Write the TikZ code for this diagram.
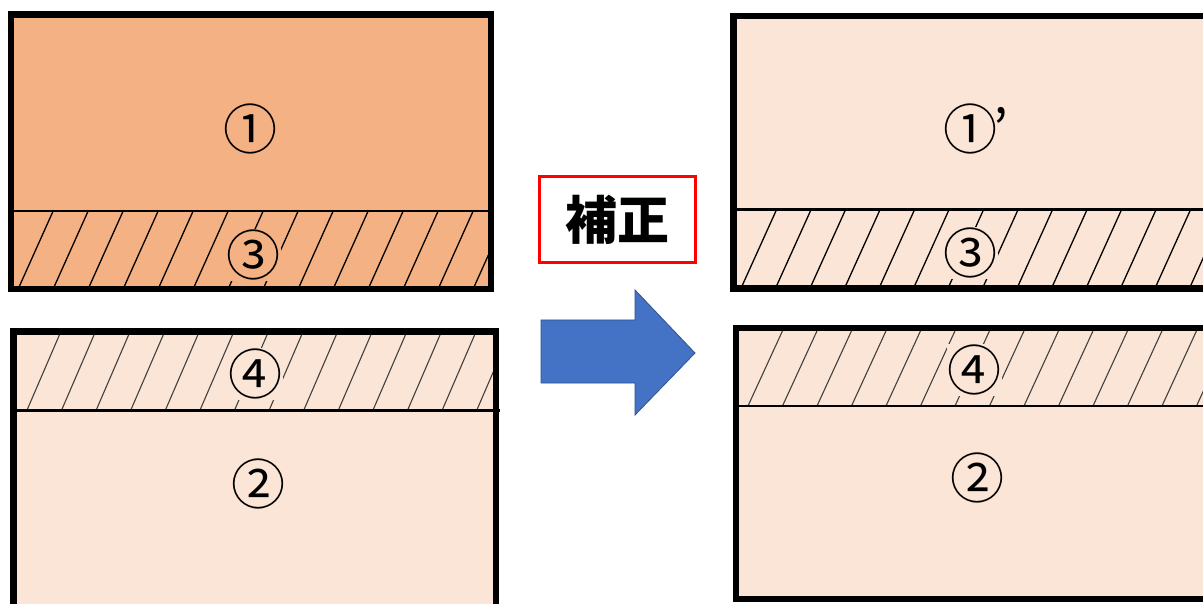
\documentclass[tikz,border=0pt]{standalone}
\usepackage{fontspec}
\newfontfamily\cjk{Noto Sans CJK JP}
\definecolor{darkfill}{HTML}{F4B183}
\definecolor{lightfill}{HTML}{FBE5D6}
\definecolor{arrowblue}{HTML}{4472C4}
\definecolor{arrowedge}{HTML}{2F528F}
\tikzset{
  outerbox/.style={draw=black, line width=6.5pt},
  midline/.style={draw=black, line width=2.6pt},
  hatchdark/.style={draw=black, line width=1.3pt},
  hatchlight/.style={draw=black!75, line width=1.1pt},
  lbl/.style={font=\cjk\fontsize{54}{54}\selectfont, inner sep=0.5pt},
  titlebox/.style={draw=red, line width=3pt, fill=white, minimum width=156pt, minimum height=86pt, font=\cjk\bfseries\fontsize{52}{52}\selectfont, inner sep=0pt},
}
\begin{document}
\begin{tikzpicture}[x=1pt,y=-1pt]
\clip (0,0) rectangle (1203,604);
\fill[white] (0,0) rectangle (1203,604);

% ---------- left top block ----------
\fill[darkfill] (11,14.5) rectangle (491,289);
\begin{scope}
  \clip (11,211) rectangle (491,289);
  \foreach \i in {0,...,14}
    \draw[hatchdark] ({18+35*\i-3},296) -- ({18+35*\i+38.3},204);
\end{scope}
\node[lbl] (c1) at (250,129) {①};
\node[lbl, fill=darkfill] (c3) at (253,255) {③};
\draw[midline] (11,211) -- (491,211);
\draw[outerbox] (11,14.5) rectangle (491,289);

% ---------- left bottom block ----------
\fill[lightfill] (13.5,331.5) rectangle (496,620);
\begin{scope}
  \clip (13.5,331.5) rectangle (496,410.5);
  \foreach \i in {0,...,14}
    \draw[hatchlight] ({27+34.6*\i-3.4},418) -- ({27+34.6*\i+38},322);
\end{scope}
\node[lbl, fill=lightfill] (c4) at (255,374) {④};
\node[lbl] (c2) at (258,484) {②};
\draw[midline] (13.5,410.5) -- (500,410.5);
\draw[outerbox] (13.5,331.5) rectangle (496,620);

% ---------- right top block ----------
\fill[lightfill] (733.5,16) rectangle (1215,288.5);
\begin{scope}
  \clip (733.5,209.5) rectangle (1215,288.5);
  \foreach \i in {0,...,14}
    \draw[hatchdark] ({741+34.5*\i-3.5},296) -- ({741+34.5*\i+39},202);
\end{scope}
\node[lbl, anchor=west] (c1p) at (943,129) {①\kern-4pt’};
\node[lbl, fill=lightfill] (c3r) at (970,253) {③};
\draw[midline] (733.5,209.5) -- (1215,209.5);
\draw[outerbox] (733.5,16) rectangle (1215,288.5);

% ---------- right bottom block ----------
\fill[lightfill] (736,328) rectangle (1215,599);
\begin{scope}
  \clip (736,328) rectangle (1215,406);
  \foreach \i in {0,...,14}
    \draw[hatchlight] ({748+34.5*\i-3.7},414) -- ({748+34.5*\i+39.5},320);
\end{scope}
\node[lbl, fill=lightfill] (c4r) at (974,370) {④};
\node[lbl] (c2r) at (977,478) {②};
\draw[midline] (736,406) -- (1215,406);
\draw[outerbox] (736,328) rectangle (1215,599);

% ---------- label box and arrow ----------
\node[titlebox] (title) at (617.5,219.5) {補正};
\draw[fill=arrowblue, draw=arrowedge, line width=0.8pt, line join=miter]
  (541,320) -- (635,320) -- (635,290) -- (695,353) -- (635,415) -- (635,383) -- (541,383) -- cycle;
\end{tikzpicture}
\end{document}
